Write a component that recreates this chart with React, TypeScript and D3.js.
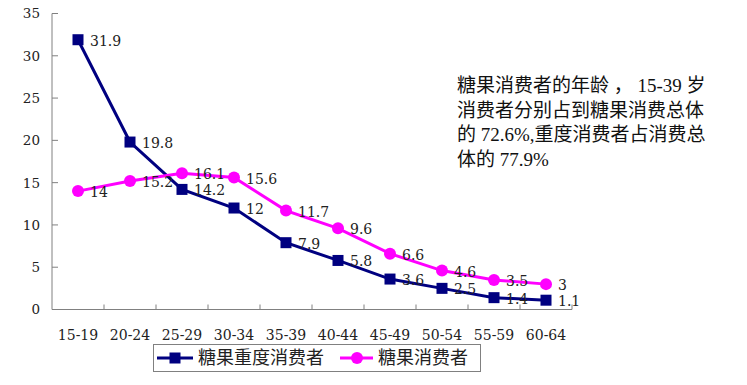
import React from 'react';
import * as d3 from 'd3';

const ageGroups = ['15-19', '20-24', '25-29', '30-34', '35-39', '40-44', '45-49', '50-54', '55-59', '60-64'];
const heavyConsumers = [31.9, 19.8, 14.2, 12, 7.9, 5.8, 3.6, 2.5, 1.4, 1.1];
const allConsumers = [14, 15.2, 16.1, 15.6, 11.7, 9.6, 6.6, 4.6, 3.5, 3];
const yTicks = [0, 5, 10, 15, 20, 25, 30, 35];
const seriesNames = ['糖果重度消费者', '糖果消费者'];
const noteLines = [
    '糖果消费者的年龄 ， 15-39 岁',
    '消费者分别占到糖果消费总体',
    '的 72.6%,重度消费者占消费总',
    '体的 77.9%',
];

const W = 747;
const H = 385;
const navy = '#000080';
const magenta = '#ff00ff';
const axisColor = '#808080';
const numFont = "'DejaVu Serif', 'Liberation Serif', serif";
const cjkFont = "'Liberation Serif', 'Noto Sans CJK SC', serif";

export default function App() {
    const x = d3.scaleBand<string>().domain(ageGroups).range([52, 572]);
    const y = d3.scaleLinear().domain([0, 35]).range([309.5, 13.5]);
    const cx = (c: string) => x(c)! + x.bandwidth() / 2;

    const line = d3.line<number>()
        .x((_, i) => cx(ageGroups[i]))
        .y(d => y(d));

    const num = { fontFamily: numFont, fontSize: 14, fill: '#222' };

    return (
        <div style={{ position: 'absolute', left: 0, top: 0 }}>
            <svg width={W} height={H} style={{ display: 'block', background: '#fff' }}>
                {/* axes */}
                <line x1={52} x2={52} y1={y(35)} y2={y(0)} stroke={axisColor} strokeWidth={1} />
                <line x1={52} x2={572} y1={y(0)} y2={y(0)} stroke={axisColor} strokeWidth={1} />
                {yTicks.map(t => (
                    <g key={t}>
                        <line x1={52} x2={58} y1={y(t)} y2={y(t)} stroke={axisColor} />
                        <text x={40} y={y(t)} dy="0.36em" textAnchor="end" style={{ ...num, fontSize: 13.5 }}>{t}</text>
                    </g>
                ))}
                {ageGroups.map((c, i) => (
                    <g key={c}>
                        {i > 0 && <line x1={x(c)!} x2={x(c)!} y1={y(0)} y2={y(0) - 5} stroke={axisColor} />}
                        <text x={cx(c)} y={335} dy="0.36em" textAnchor="middle" style={num}>{c}</text>
                    </g>
                ))}
                <line x1={572} x2={572} y1={y(0)} y2={y(0) - 5} stroke={axisColor} />

                {/* series */}
                <path d={line(heavyConsumers)!} fill="none" stroke={navy} strokeWidth={3} />
                {heavyConsumers.map((v, i) => (
                    <rect key={i} x={cx(ageGroups[i]) - 5.5} y={y(v) - 5.5} width={11} height={11} fill={navy} />
                ))}
                <path d={line(allConsumers)!} fill="none" stroke={magenta} strokeWidth={3} />
                {allConsumers.map((v, i) => (
                    <circle key={i} cx={cx(ageGroups[i])} cy={y(v)} r={6} fill={magenta} />
                ))}

                {/* data labels */}
                {heavyConsumers.map((v, i) => (
                    <text key={'h' + i} x={cx(ageGroups[i]) + 12} y={y(v) + 1} dy="0.36em" style={num}>{v}</text>
                ))}
                {allConsumers.map((v, i) => (
                    <text key={'a' + i} x={cx(ageGroups[i]) + 12} y={y(v) + 1} dy="0.36em" style={num}>{v}</text>
                ))}

                {/* legend */}
                <rect x={153.5} y={344.5} width={327} height={27} fill="#fff" stroke={axisColor} />
                <line x1={157} x2={193} y1={358} y2={358} stroke={navy} strokeWidth={3} />
                <rect x={169.5} y={352.5} width={11} height={11} fill={navy} />
                <text x={198} y={358} dy="0.36em" style={{ fontFamily: cjkFont, fontSize: 18, fill: '#222' }}>{seriesNames[0]}</text>
                <line x1={340} x2={373} y1={358} y2={358} stroke={magenta} strokeWidth={3} />
                <circle cx={357} cy={358} r={6} fill={magenta} />
                <text x={378} y={358} dy="0.36em" style={{ fontFamily: cjkFont, fontSize: 18, fill: '#222' }}>{seriesNames[1]}</text>

                {/* annotation */}
                {noteLines.map((t, i) => (
                    <text key={i} x={457} y={85 + i * 24.7} dy="0.36em" style={{ fontFamily: cjkFont, fontSize: 19, fill: '#111' }}>{t}</text>
                ))}
            </svg>
        </div>
    );
}
